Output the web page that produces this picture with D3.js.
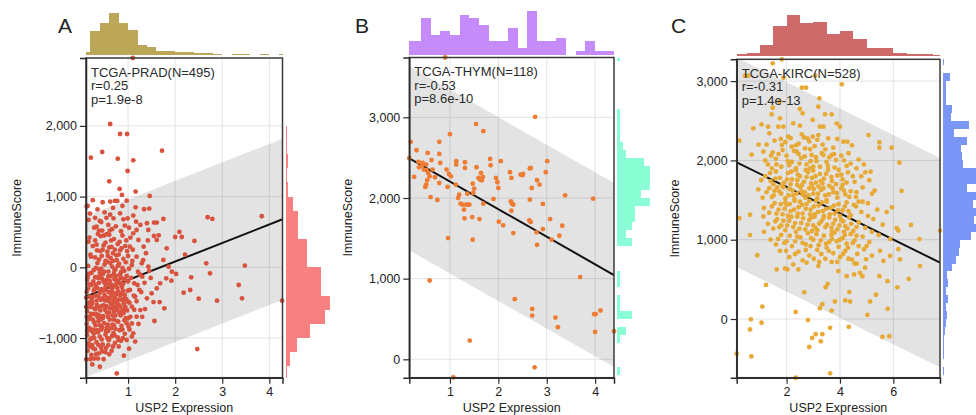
<!DOCTYPE html>
<html><head><meta charset="utf-8">
<script src="https://cdn.jsdelivr.net/npm/d3@7"></script>
<style>
body{margin:0;background:#fff}
svg{display:block;font-family:"Liberation Sans",Arial,sans-serif}
</style>
</head><body>
<svg id="chart" width="976" height="415"></svg>
<script>
// ---------- Panel A: TCGA-PRAD ----------
const pradPoints = [
[0.62,2027],[0.83,1885],[0.98,1885],[1.10,2960],[0.45,1631],[0.21,1550],[0.78,1536],[1.11,1513],[1.72,1649],[0.99,1362],
[0.60,1216],[0.82,1108],[0.87,1023],[1.16,1071],[1.46,1009],[0.14,868],[0.46,920],[0.62,929],[0.72,939],[0.77,939],
[0.97,943],[0.16,670],[0.40,656],[0.50,778],[0.62,745],[0.69,693],[0.83,764],[0.90,679],[0.99,693],[1.11,731],
[1.16,849],[1.34,821],[1.45,830],[1.17,646],[1.26,599],[1.40,623],[1.55,632],[1.61,632],[1.75,684],[2.69,708],
[2.79,684],[3.84,722],[0.16,363],[0.33,575],[1.65,453],[2.00,429],[2.09,500],[2.14,429],[2.41,373],[2.21,179],
[2.66,57],[3.48,24],[2.74,-85],[2.34,-142],[2.02,-94],[1.92,-189],[3.35,-250],[2.18,-358],[2.32,-321],[2.50,-443],
[2.89,-472],[3.42,-439],[2.47,-1156],[4.27,-472],[1.77,-580],[1.56,-759],[1.54,-491],[1.67,-491],[1.36,-590],[0.91,-1250],
[0.76,-1500],[0.40,-1406],[0.24,-1373],[0.11,-1302],[0.16,-1075],[0.26,-1146],[0.38,-1217],[0.16,-736],[0.14,-557],[0.11,-429],
[1.55,443],[1.61,387],[1.82,269],[1.75,104],[1.86,9],[1.93,-61],[1.81,-156],[1.68,-226],[1.61,-297],[1.50,-368],
[1.40,-439],[1.26,-604],[1.43,9],[1.29,57],[1.33,292],[1.22,387],[1.43,528],[1.18,528],[1.11,481],[1.04,292],
[1.18,151],[1.08,33],[1.21,-61],[1.30,-132],[1.13,-226],[1.04,-321],[1.15,-415],[1.08,-557],[1.18,-698],[1.01,-840],
[1.11,-934],[0.97,-1028],[1.08,-793],[0.91,-509],
[0.28,560],[0.45,520],[0.58,600],[0.66,540],[0.74,580],[0.85,510],[0.93,590],[1.02,560],[0.36,470],
[0.18,420],[0.30,380],[0.42,440],[0.52,350],[0.60,460],[0.70,400],[0.78,330],[0.88,450],[0.96,380],[1.05,420],
[0.25,300],[0.48,310],[0.65,290],[0.82,360],[0.55,470],
[0.20,180],[0.34,240],[0.44,160],[0.56,220],[0.63,130],[0.72,250],[0.80,180],[0.90,120],[0.98,230],[0.38,110],
[0.52,90],[0.68,200],[0.86,270],[0.30,140],[0.76,100],[1.00,160],[0.60,280],[0.46,250],
[0.15,20],[0.27,-40],[0.35,60],[0.43,-20],[0.50,40],[0.58,-60],[0.66,10],[0.73,-30],[0.81,50],[0.88,-10],
[0.95,70],[0.40,-80],[0.55,80],[0.70,-90],[0.85,-70],[0.62,60],[0.32,-10],[0.47,-90],[0.78,20],[0.92,-50],
[1.02,-20],[0.22,-80],[0.68,90],
[0.13,-180],[0.22,-250],[0.30,-140],[0.38,-220],[0.45,-160],[0.52,-280],[0.58,-130],[0.64,-240],[0.71,-170],[0.77,-290],
[0.84,-150],[0.90,-230],[0.97,-120],[0.34,-290],[0.48,-200],[0.61,-190],[0.74,-120],[0.87,-280],[0.26,-200],[0.55,-240],
[0.68,-270],[0.80,-210],[0.42,-120],[1.00,-200],[0.94,-170],
[0.12,-350],[0.19,-420],[0.27,-330],[0.33,-470],[0.40,-360],[0.46,-440],[0.53,-320],[0.59,-480],[0.65,-380],[0.72,-430],
[0.79,-340],[0.86,-460],[0.93,-390],[0.99,-330],[0.23,-480],[0.37,-410],[0.50,-390],[0.62,-350],[0.69,-470],[0.83,-400],
[0.89,-330],[0.56,-430],[0.43,-310],[0.30,-400],[0.76,-500],[0.96,-450],
[0.13,-620],[0.20,-560],[0.27,-660],[0.34,-530],[0.41,-610],[0.47,-690],[0.54,-550],[0.60,-640],[0.67,-580],[0.73,-680],
[0.80,-530],[0.87,-620],[0.94,-560],[0.24,-510],[0.38,-680],[0.51,-600],[0.64,-520],[0.70,-620],[0.84,-680],[0.31,-590],
[0.57,-700],[0.77,-600],[0.44,-550],[0.90,-650],[0.98,-610],
[0.12,-800],[0.18,-860],[0.25,-740],[0.31,-820],[0.37,-760],[0.43,-880],[0.49,-790],[0.55,-850],[0.61,-740],[0.67,-810],
[0.73,-870],[0.79,-770],[0.86,-830],[0.92,-750],[0.22,-900],[0.34,-890],[0.46,-720],[0.58,-900],[0.70,-740],[0.82,-890],
[0.40,-820],[0.64,-860],[0.28,-780],
[0.13,-960],[0.20,-1020],[0.27,-940],[0.33,-1060],[0.40,-980],[0.46,-1090],[0.52,-950],[0.59,-1030],[0.66,-970],[0.72,-1070],
[0.78,-990],[0.85,-1040],[0.24,-1100],[0.36,-920],[0.56,-1000],[0.69,-930],[0.44,-1020],
[0.14,-1180],[0.22,-1240],[0.30,-1160],[0.36,-1290],[0.45,-1190],[0.53,-1140],[0.60,-1230],[0.68,-1120],[0.18,-1120],[0.28,-1290],
[0.19,760],[0.35,820],[0.54,700],[0.25,950],[0.12,860],[0.30,700],[0.68,840],[0.88,870],[0.43,640],
[1.05,-700],[1.12,-400],[1.20,-250],[1.25,-100],[1.32,100],[1.38,200],[1.45,-50],[1.28,-350],[1.35,-220],[1.42,380],
[1.48,-150],[1.10,250],[1.03,-880],[1.15,-1050],[1.22,-800],[1.30,-700],[1.08,-980],
[0.17,-90],[0.29,-310],[0.36,-560],[0.41,-740],[0.49,-60],[0.51,-470],[0.57,-810],[0.63,-280],[0.67,-520],[0.71,-960],
[0.75,-380],[0.81,-640],[0.85,-240],[0.88,-880],[0.95,-720],[0.21,-660],[0.26,-880],[0.33,-140],[0.39,-30],[0.44,-700],
[0.48,-540],[0.53,-900],[0.59,-350],[0.61,-580],[0.65,-120],[0.69,-360],[0.73,-560],[0.77,-760],[0.83,-100],[0.91,-450],
[0.97,-790],[0.15,-300],[0.19,-700],[0.24,-420],[0.31,-250],[0.35,-700],[0.42,-460],[0.47,-330],[0.54,-180],[0.58,-1100],
[0.63,-430],[0.67,-680],[0.71,-40],[0.74,-240],[0.79,-460],[0.84,-560],[0.89,-160],[0.93,-940],[0.99,-480],[0.17,-500],
[0.28,-1000],[0.32,-660],[0.37,-150],[0.45,-850],[0.50,-220],[0.55,-640],[0.60,-1010],[0.66,-300],[0.70,-820],[0.76,-180],
[0.80,-1030],[0.86,-380],[0.92,-600],[0.21,150],[0.33,320],[0.41,230],[0.49,450],[0.57,160],[0.64,380],[0.75,170],
[0.83,240],[0.94,300],[0.38,520],[0.61,520],[0.28,-580],[0.43,-1140],[0.52,-1200],[0.65,-1180],[0.37,-1100],[0.23,-1000],
[0.15,-860],[0.12,-700],[0.18,-240],[0.14,-140],[0.11,-560],[0.13,-900],[0.20,-1300],[0.32,-1230],[0.48,-1300],[0.80,-1120],
[0.89,-1000],[1.00,-720],[1.03,-500],[1.06,-150],[1.09,90],[1.13,-600],[1.18,-480],[1.24,-320],[1.02,-1150]
];
const pradXDomain = [0.106, 4.28];
const pradYDomain = [-1561, 2960];
const pradXTicks = [1, 2, 3, 4];
const pradYTicks = [-1000, 0, 1000, 2000];
const pradFit = [262, -442, 1140];          // slope, intercept, band half-width
const pradTopBins = [0, 0.2];               // first edge, bin width
const pradTopCounts = [8,60,81,105,79,62,25,21,11,11,7,7,4,4,2,0,2,2,0,2,0,2];
const pradRightBins = [-1600, 200];
const pradRightCounts = [3,7,19,41,68,75,61,61,37,37,22,22,12,5,3,5,3,3,1,0,0,0,1];

// ---------- Panel B: TCGA-THYM ----------
const thymPoints = [
[0.19,2696],[0.31,2592],[0.16,2493],[0.26,2261],[0.35,2447],[0.44,2435],[0.51,2414],[0.54,2559],[0.42,2402],[0.46,2352],
[0.52,2344],[0.55,2311],[0.58,2269],[0.53,2220],[0.51,2166],[0.49,2137],[0.60,2012],[0.64,2352],[0.69,2257],[0.74,1975],
[0.78,2696],[0.78,2547],[0.80,2435],[0.78,2186],[0.93,2352],[1.00,2791],[0.98,2298],[1.02,2269],[0.95,2137],[0.96,1503],
[1.13,2456],[1.13,2414],[1.12,2166],[1.19,2041],[1.17,2000],[1.22,1930],[1.26,1917],[1.29,1855],[1.30,1748],[1.31,2443],
[1.31,2373],[1.33,1917],[1.37,1917],[1.40,1917],[1.36,2054],[1.47,2178],[1.50,2116],[1.48,2062],[1.46,1764],[1.47,1483],
[1.55,2381],[1.59,2249],[1.62,2228],[1.64,2311],[1.66,2220],[1.68,2261],[1.61,1739],[1.69,1930],[1.69,2828],[1.84,2406],
[1.90,1988],[1.95,2249],[1.98,2195],[2.00,2124],[2.05,2456],[2.01,1706],[2.10,1661],[2.24,2319],[2.27,2249],[2.26,1959],
[2.28,1930],[2.31,1917],[2.27,1843],[2.31,1565],[2.46,2290],[2.51,2298],[2.67,2373],[2.69,2124],[2.65,1979],[2.64,1723],
[2.67,1702],[2.80,2220],[2.85,2166],[2.79,1574],[2.80,1420],[2.92,1926],[2.92,1615],[2.98,2319],[3.01,2456],[3.07,1739],
[3.10,1483],[3.26,1532],[3.32,1656],[3.38,2033],[3.96,1992],[3.69,1019],[0.58,977],[2.34,745],[2.70,625],[2.70,542],
[3.18,518],[3.23,398],[3.98,559],[4.01,559],[4.11,605],[4.00,340],[4.39,348],[1.41,232],[2.75,-99],[1.07,-224],
[0.90,3742],[2.76,3006],[1.54,2916],[0.36,2380],[0.62,2470],[1.83,2484],[2.50,2283],[2.65,2367]
];
const thymXDomain = [0.16, 4.39];
const thymYDomain = [-228, 3742];
const thymXTicks = [1, 2, 3, 4];
const thymYTicks = [0, 1000, 2000, 3000];
const thymFit = [-342, 2546, 1140];
const thymTopBins = [0, 0.2];
const thymTopCounts = [4,4,11,6,7,6,12,11,9,4,4,8,2,13,4,4,5,0,1,4,1,1];
const thymRightBins = [-300, 100];
const thymRightCounts = [0,1,0,0,0,1,3,0,5,1,1,0,1,1,0,0,0,5,3,5,6,6,11,8,11,11,11,9,3,2,1,1,1,1,0,0,0,0,0,0,1];

// ---------- Panel C: TCGA-KIRC ----------
const kircPoints = [
[1.23,430],[1.09,157],[1.06,-47],[0.66,-4],[0.63,-132],[0.68,-472],[0.13,-438],[2.34,89],[2.80,-13],[2.85,-353],
[2.96,-238],[3.09,-191],[3.28,-281],[3.34,-191],[3.25,136],[3.34,187],[3.46,400],[3.54,443],[3.63,-111],[3.63,-685],
[2.34,-740],[3.69,106],[3.81,221],[4.33,-98],[4.20,234],[4.35,340],[4.38,221],[5.03,51],[5.13,221],[5.35,306],
[5.59,-226],[5.85,-217],[5.79,128],[6.15,400],[6.58,506],[7.00,668],[5.78,477],[5.48,540],[2.66,336],[1.63,625],
[1.94,638],[2.03,625],[2.25,689],[2.44,625],[2.75,710],[3.19,668],[3.69,719],[3.94,604],[4.25,540],[4.53,562],
[4.75,583],[4.84,540],[4.94,647],[4.98,753],[4.63,698],[5.63,732],[5.88,796],[6.25,753],[7.75,1115],[6.98,1008],
[6.66,1187],[6.13,1145],[6.19,1115],[6.31,1617],[5.95,1408],[5.75,1349],[5.88,1008],[6.19,881],[0.90,804],[0.23,1272],
[0.63,1059],[0.63,1315],[0.94,1634],[1.13,1294],[0.69,2072],[5.15,1859],
[1.82,3275],[1.48,3224],[0.44,3068],[0.56,3068],[1.88,3043],[3.07,3068],[4.07,2960],[2.57,2917],[2.73,2917],[3.23,2783],
[1.73,2740],[1.48,2664],[3.19,2677],[2.50,2648],[2.60,2594],[3.44,2581],[3.69,2581],[1.44,2581],[1.75,2531],[3.88,2468],
[0.75,2405],[1.06,2455],[1.31,2425],[1.69,2425],[1.88,2425],[2.25,2468],[2.50,2438],[2.98,2510],[3.25,2425],[3.38,2425],
[4.00,2425],[5.07,2320],[5.48,2228],[5.48,2161],[5.94,2161],[6.23,1971],[0.23,2249],[1.35,2342],[2.06,2299],[2.57,2329],
[2.78,2279],[2.98,2299],[3.19,2320],[3.56,2279],[4.13,2236],[4.28,2236],[1.13,2110],[1.48,2102],[1.82,2194],[2.19,2173],
[2.38,2110],[2.69,2152],[2.94,2068],[3.38,2068],[3.69,2068],[3.85,2005],
[1.55,2250],[1.95,2230],[2.15,2280],[2.45,2210],[2.85,2240],[3.05,2180],[3.35,2200],[3.75,2160],[4.45,2190],[1.25,2200],
[2.65,2290],[3.90,2270],
[1.30,1950],[1.60,2020],[1.80,1920],[2.00,2060],[2.20,1980],[2.35,1900],[2.55,2030],[2.75,1950],[2.90,1990],[3.10,2040],
[3.25,1920],[3.50,1980],[3.80,1910],[4.05,2060],[4.40,1960],[4.70,2010],[1.45,1900],[2.10,1940],[2.45,2080],[3.00,1920],
[3.60,2040],[4.25,1930],[1.70,2080],[4.90,1950],
[1.20,1800],[1.40,1740],[1.60,1860],[1.75,1780],[1.90,1720],[2.05,1840],[2.20,1760],[2.35,1880],[2.50,1800],[2.65,1730],
[2.80,1850],[2.95,1780],[3.10,1720],[3.25,1830],[3.40,1770],[3.55,1880],[3.70,1740],[3.90,1810],[4.10,1760],[4.30,1850],
[4.55,1730],[4.80,1800],[5.10,1750],[1.50,1700],[2.15,1700],[2.75,1790],[3.35,1710],[3.95,1880],[2.40,1750],[3.00,1870],
[1.25,1600],[1.45,1540],[1.65,1660],[1.80,1580],[1.95,1520],[2.10,1640],[2.25,1560],[2.40,1690],[2.55,1610],[2.70,1530],
[2.85,1650],[3.00,1580],[3.15,1520],[3.30,1630],[3.45,1560],[3.60,1680],[3.75,1600],[3.90,1530],[4.05,1650],[4.20,1570],
[4.40,1610],[4.60,1540],[4.85,1660],[5.20,1580],[1.55,1620],[2.30,1510],[2.95,1690],[3.50,1500],[4.10,1690],[2.60,1570],
[3.20,1670],[1.10,1530],
[1.15,1400],[1.35,1340],[1.55,1460],[1.70,1380],[1.85,1320],[2.00,1440],[2.15,1360],[2.30,1490],[2.45,1410],[2.60,1330],
[2.75,1450],[2.90,1380],[3.05,1320],[3.20,1430],[3.35,1360],[3.50,1480],[3.65,1400],[3.80,1330],[3.95,1450],[4.10,1370],
[4.25,1470],[4.40,1310],[4.60,1420],[4.80,1350],[5.05,1460],[5.40,1380],[2.05,1300],[2.85,1490],[3.40,1300],[4.00,1300],
[2.50,1480],[3.10,1490],[1.95,1470],[4.70,1480],
[1.30,1200],[1.50,1140],[1.65,1260],[1.80,1180],[1.95,1120],[2.10,1240],[2.25,1160],[2.40,1290],[2.55,1210],[2.70,1130],
[2.85,1250],[3.00,1180],[3.15,1120],[3.30,1230],[3.45,1160],[3.60,1280],[3.75,1200],[3.90,1130],[4.05,1250],[4.20,1170],
[4.35,1280],[4.50,1110],[4.70,1220],[4.95,1150],[5.25,1260],[5.60,1190],[2.35,1100],[3.05,1290],[3.70,1100],[4.15,1100],
[2.95,1110],
[1.40,1000],[1.60,940],[1.80,1060],[2.00,980],[2.20,920],[2.40,1040],[2.60,960],[2.80,1080],[3.00,1000],[3.20,930],
[3.40,1050],[3.60,970],[3.80,1090],[3.95,910],[4.10,1020],[4.25,950],[4.40,1070],[4.55,990],[4.70,920],[4.85,1040],
[5.10,970],[5.45,1060],[2.90,920],[3.50,900],[4.00,1000],[3.70,1010],[4.30,900],
[1.75,860],[2.10,780],[2.45,850],[2.85,800],[3.15,870],[3.45,760],[3.75,830],[4.00,780],[4.20,860],[4.45,750],
[4.65,820],[4.90,880],[5.20,800],[3.90,720],[2.60,740],[4.55,700],[5.50,860],[3.30,820],
[1.42,2060],[1.62,1950],[1.85,2130],[2.05,1990],[2.28,2120],[2.48,1960],[2.68,2050],[2.88,1900],[3.12,1990],[3.32,2090],
[3.55,1930],[3.78,2080],[4.15,2000],[1.38,1840],[1.58,1770],[1.83,1690],[2.02,1760],[2.18,1860],[2.42,1820],[2.58,1690],
[2.72,1880],[2.92,1710],[3.08,1800],[3.28,1740],[3.48,1830],[3.68,1790],[3.85,1700],[4.05,1820],[4.25,1720],[4.48,1800],
[1.35,1650],[1.52,1560],[1.72,1610],[1.88,1660],[2.08,1560],[2.22,1620],[2.38,1580],[2.52,1660],[2.68,1600],[2.82,1560],
[3.02,1640],[3.18,1580],[3.38,1650],[3.58,1570],[3.72,1650],[3.88,1590],[4.15,1620],[4.35,1540],[4.62,1600],[1.45,1420],
[1.62,1330],[1.78,1450],[1.92,1390],[2.12,1450],[2.28,1380],[2.42,1330],[2.58,1440],[2.72,1390],[2.88,1320],[3.02,1420],
[3.18,1350],[3.32,1470],[3.48,1390],[3.62,1320],[3.78,1430],[3.92,1370],[4.18,1420],[4.32,1360],[4.52,1440],[1.58,1230],
[1.72,1160],[1.88,1240],[2.02,1180],[2.18,1290],[2.32,1210],[2.48,1140],[2.62,1270],[2.78,1190],[2.92,1280],[3.08,1150],
[3.22,1200],[3.38,1270],[3.52,1190],[3.68,1150],[3.82,1250],[3.98,1180],[4.12,1230],[4.28,1140],[4.42,1200],[4.62,1160],
[1.68,1010],[1.92,960],[2.12,1050],[2.32,980],[2.52,1030],[2.72,940],[2.92,1020],[3.12,1070],[3.28,990],[3.48,950],
[3.68,1060],[3.88,980],[4.18,1060],[4.48,960],[4.62,1050],[2.32,820],[2.72,870],[3.02,760],[3.58,860],[4.12,820],
[4.32,760],[3.22,720],[1.98,860],[2.88,2140],[3.45,2140],[2.35,2190],[1.78,2270],[3.15,2260],[4.32,2090],[4.62,1900],
[4.85,1480],[5.05,1300],[4.95,1850],[5.30,1620],[5.20,1100],[5.00,920],[1.15,1100],[1.05,1750],[1.20,2000],[0.95,2200]
];
const kircXDomain = [0.13, 7.75];
const kircYDomain = [-740, 3275];
const kircXTicks = [2, 4, 6];
const kircYTicks = [0, 1000, 2000, 3000];
const kircFit = [-166, 1998, 1320];
const kircTopBins = [0, 0.5];
const kircTopCounts = [5,7,24,65,88,71,73,48,54,38,18,18,7,4,4,2];
const kircRightBins = [-800, 100];
const kircRightCounts = [0,1,0,1,1,1,2,3,4,3,5,3,5,4,9,13,16,17,28,36,31,36,30,36,24,36,36,20,19,18,24,11,26,8,9,3,3,3,7,0,1];

// ---------- layout & style per panel ----------
const panels = [
  {letter:"A", letterX:58, cohort:"TCGA-PRAD(N=495)", r:"r=0.25", p:"p=1.9e-8",
   pts:pradPoints, xd:pradXDomain, yd:pradYDomain, xt:pradXTicks, yt:pradYTicks, fit:pradFit,
   top:[pradTopBins, pradTopCounts, 42], right:[pradRightBins, pradRightCounts, 44],
   box:[86, 282.5, 58, 377.7], ylabX:16.5,
   dot:"#d9523e", topFill:"#bca658", rightFill:"#f88080"},
  {letter:"B", letterX:355, cohort:"TCGA-THYM(N=118)", r:"r=-0.53", p:"p=8.6e-10",
   pts:thymPoints, xd:thymXDomain, yd:thymYDomain, xt:thymXTicks, yt:thymYTicks, fit:thymFit,
   top:[thymTopBins, thymTopCounts, 43.3], right:[thymRightBins, thymRightCounts, 32.7],
   box:[409.3, 614, 57.5, 377.7], ylabX:348,
   dot:"#ef7c33", topFill:"#c58bfa", rightFill:"#8affd6"},
  {letter:"C", letterX:671, cohort:"TCGA-KIRC(N=528)", r:"r=-0.31", p:"p=1.4e-13",
   pts:kircPoints, xd:kircXDomain, yd:kircYDomain, xt:kircXTicks, yt:kircYTicks, fit:kircFit,
   top:[kircTopBins, kircTopCounts, 41], right:[kircRightBins, kircRightCounts, 36],
   box:[736.7, 940, 59.3, 377.7], ylabX:675,
   dot:"#e8aa37", topFill:"#cd6969", rightFill:"#7a97f7"}
];

const svg = d3.select("#chart");
svg.append("rect").attr("width", 976).attr("height", 415).attr("fill", "#fff");
const fmt = d3.format(",");

panels.forEach((P, idx) => {
  const [L, R, T, B] = P.box;
  const x = d3.scaleLinear().domain(P.xd).range([L, R]);
  const y = d3.scaleLinear().domain(P.yd).range([B, T]);
  const g = svg.append("g");

  const clipId = "clip" + idx;
  g.append("clipPath").attr("id", clipId)
    .append("rect").attr("x", L).attr("y", T).attr("width", R - L).attr("height", B - T);

  // grid
  g.append("g").selectAll("line").data(P.xt).join("line")
    .attr("x1", d => x(d)).attr("x2", d => x(d)).attr("y1", T).attr("y2", B)
    .attr("stroke", "#e4e4e4").attr("stroke-width", 1);
  g.append("g").selectAll("line").data(P.yt).join("line")
    .attr("y1", d => y(d)).attr("y2", d => y(d)).attr("x1", L).attr("x2", R)
    .attr("stroke", "#e4e4e4").attr("stroke-width", 1);

  // regression band and line
  const [slope, icpt, half] = P.fit;
  const fitAt = v => icpt + slope * v;
  const x0 = P.xd[0], x1 = P.xd[1];
  const band = [[x0, fitAt(x0) + half], [x1, fitAt(x1) + half], [x1, fitAt(x1) - half], [x0, fitAt(x0) - half]];
  const cg = g.append("g").attr("clip-path", `url(#${clipId})`);
  cg.append("path")
    .attr("d", d3.line().x(d => x(d[0])).y(d => y(d[1]))(band) + "Z")
    .attr("fill", "rgba(0,0,0,0.11)");

  // points
  g.append("g").selectAll("circle").data(P.pts).join("circle")
    .attr("cx", d => x(d[0])).attr("cy", d => y(d[1])).attr("r", 2.4)
    .attr("fill", P.dot);

  cg.append("line")
    .attr("x1", x(x0)).attr("y1", y(fitAt(x0))).attr("x2", x(x1)).attr("y2", y(fitAt(x1)))
    .attr("stroke", "#111").attr("stroke-width", 2);

  // frame
  g.append("rect").attr("x", L).attr("y", T).attr("width", R - L).attr("height", B - T)
    .attr("fill", "none").attr("stroke", "#3a3a3a").attr("stroke-width", 1.5);

  // axes
  const ax = g.append("g").attr("transform", `translate(0,${B})`)
    .call(d3.axisBottom(x).tickValues(P.xt).tickFormat(fmt).tickSizeOuter(6));
  const ay = g.append("g").attr("transform", `translate(${L},0)`)
    .call(d3.axisLeft(y).tickValues(P.yt).tickFormat(fmt).tickSizeOuter(6));
  [ax, ay].forEach(a => {
    a.select(".domain").attr("stroke", "#2a2a2a").attr("stroke-width", 1.5);
    a.selectAll(".tick line").attr("stroke", "#2a2a2a").attr("stroke-width", 1.2);
    a.selectAll("text").attr("font-size", 12.5).attr("fill", "#222")
      .attr("font-family", '"Liberation Sans", Arial, sans-serif');
  });

  // top marginal histogram
  const [tb, tc, tmax] = P.top;
  const th = d3.scaleLinear().domain([0, d3.max(tc)]).range([0, tmax]);
  const topBase = T - 3;
  g.append("g").selectAll("rect").data(tc).join("rect")
    .attr("x", (d, i) => x(Math.max(P.xd[0], tb[0] + i * tb[1])))
    .attr("width", (d, i) => Math.max(0, x(Math.min(P.xd[1], tb[0] + (i + 1) * tb[1])) - x(Math.max(P.xd[0], tb[0] + i * tb[1]))))
    .attr("y", d => topBase - th(d)).attr("height", d => th(d))
    .attr("fill", P.topFill).attr("shape-rendering", "crispEdges");

  // right marginal histogram
  const [rb, rc, rmax] = P.right;
  const rw = d3.scaleLinear().domain([0, d3.max(rc)]).range([0, rmax]);
  const rightBase = R + 3;
  g.append("g").selectAll("rect").data(rc).join("rect")
    .attr("y", (d, i) => y(Math.min(P.yd[1], rb[0] + (i + 1) * rb[1])))
    .attr("height", (d, i) => Math.max(0, y(Math.max(P.yd[0], rb[0] + i * rb[1])) - y(Math.min(P.yd[1], rb[0] + (i + 1) * rb[1]))))
    .attr("x", rightBase).attr("width", d => rw(d))
    .attr("fill", P.rightFill).attr("shape-rendering", "crispEdges");

  // labels
  g.append("text").attr("x", P.letterX).attr("y", 33).attr("font-size", 21)
    .attr("fill", "#222").text(P.letter);
  const st = g.append("text").attr("font-size", 13).attr("fill", "#2a2a2a");
  [P.cohort, P.r, P.p].forEach((s, i) => {
    st.append("tspan").attr("x", L + 5).attr("y", T + 18.5 + i * 13.5).text(s);
  });
  g.append("text").attr("x", (L + R) / 2).attr("y", 412).attr("text-anchor", "middle")
    .attr("font-size", 12.5).attr("fill", "#222").text("USP2 Expression");
  g.append("text").attr("transform", `translate(${P.ylabX + 4},${(T + B) / 2}) rotate(-90)`)
    .attr("text-anchor", "middle").attr("font-size", 12.5).attr("fill", "#222").text("ImmuneScore");
});
</script>
</body></html>
